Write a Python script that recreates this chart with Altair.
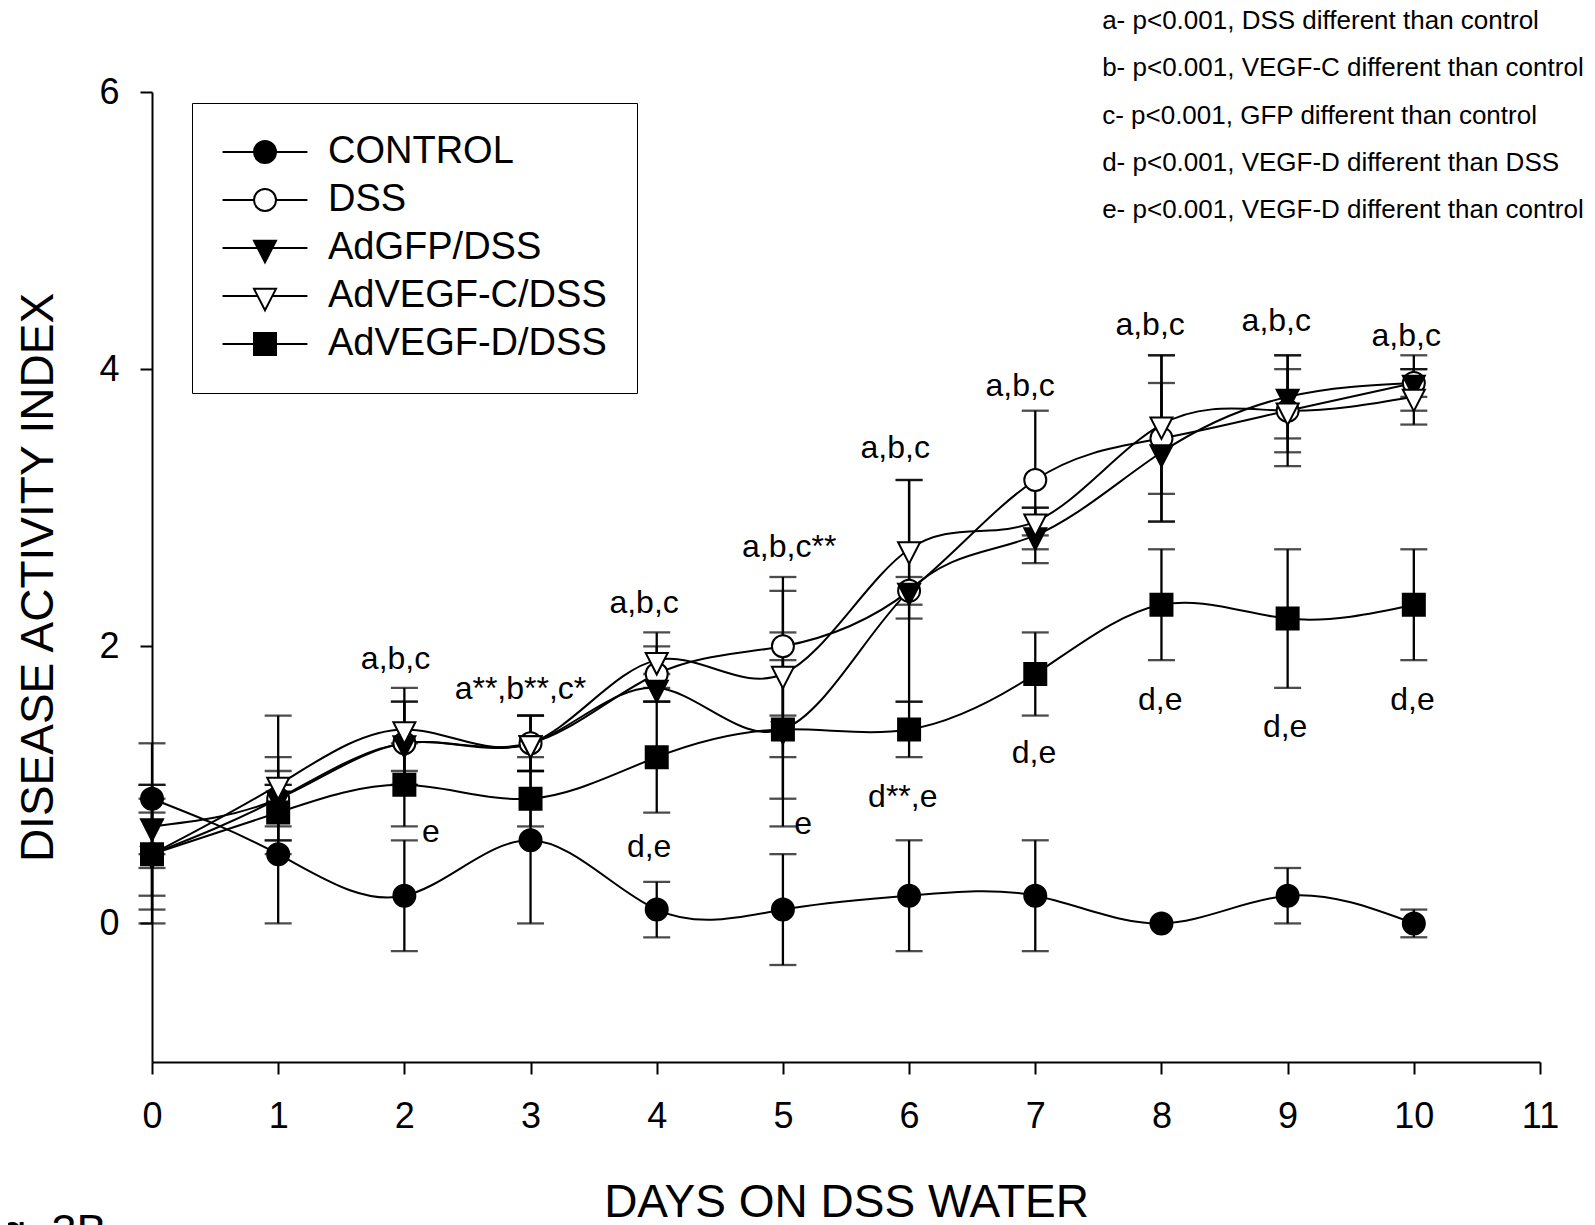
import altair as alt
import pandas as pd

# ---------------- data ----------------
days = [0, 1, 2, 3, 4, 5, 6, 7, 8, 9, 10]
series = ["CONTROL", "DSS", "AdGFP/DSS", "AdVEGF-C/DSS", "AdVEGF-D/DSS"]

control_mean = [0.9, 0.5, 0.2, 0.6, 0.1, 0.1, 0.2, 0.2, 0.0, 0.2, 0.0]
control_err = [0.4, 0.5, 0.4, 0.6, 0.2, 0.4, 0.4, 0.4, 0.0, 0.2, 0.1]
dss_mean = [0.5, 0.9, 1.3, 1.3, 1.8, 2.0, 2.4, 3.2, 3.5, 3.7, 3.9]
dss_err = [0.5, 0.2, 0.3, 0.2, 0.2, 0.5, 0.8, 0.5, 0.6, 0.4, 0.2]
gfp_mean = [0.7, 0.9, 1.3, 1.3, 1.7, 1.4, 2.4, 2.8, 3.4, 3.8, 3.9]
gfp_err = [0.3, 0.3, 0.3, 0.2, 0.1, 0.5, 0.1, 0.2, 0.5, 0.3, 0.1]
vegfc_mean = [0.5, 1.0, 1.4, 1.3, 1.9, 1.8, 2.7, 2.9, 3.6, 3.7, 3.8]
vegfc_err = [0.3, 0.5, 0.3, 0.2, 0.2, 0.6, 0.5, 0.1, 0.5, 0.3, 0.2]
vegfd_mean = [0.5, 0.8, 1.0, 0.9, 1.2, 1.4, 1.4, 1.8, 2.3, 2.2, 2.3]
vegfd_err = [0.4, 0.2, 0.3, 0.2, 0.4, 0.7, 0.2, 0.3, 0.4, 0.5, 0.4]

means = [control_mean, dss_mean, gfp_mean, vegfc_mean, vegfd_mean]
errs = [control_err, dss_err, gfp_err, vegfc_err, vegfd_err]

# significance annotations (day position, index position, text)
ann_x = [1.93, 2.92, 3.90, 5.05, 5.89, 6.88, 7.91, 8.91, 9.94,
         2.21, 3.94, 5.16, 5.95, 6.99, 7.99, 8.98, 9.99]
ann_y = [1.91, 1.69, 2.31, 2.72, 3.43, 3.88, 4.32, 4.35, 4.24,
         0.66, 0.55, 0.72, 0.91, 1.23, 1.61, 1.42, 1.61]
ann_text = ["a,b,c", "a**,b**,c*", "a,b,c", "a,b,c**", "a,b,c", "a,b,c", "a,b,c", "a,b,c", "a,b,c",
            "e", "d,e", "e", "d**,e", "d,e", "d,e", "d,e", "d,e"]

key_text = ["a- p<0.001, DSS different than control",
            "b- p<0.001, VEGF-C different than control",
            "c- p<0.001, GFP different than control",
            "d- p<0.001, VEGF-D different than DSS",
            "e- p<0.001, VEGF-D different than control"]
key_x = [7.53] * 5
key_y = [6.51, 6.17, 5.83, 5.49, 5.15]

fig_label = ["Fig. 3B"]
fig_x = [-1.49]
fig_y = [-2.33]

# ---------------- tables ----------------
rows = []
for si, (s, m, e) in enumerate(zip(series, means, errs)):
    for d, mv, ev in zip(days, m, e):
        rows.append({"series": s, "order": si, "day": d, "mean": mv,
                     "lo": round(mv - ev, 3), "hi": round(mv + ev, 3)})
df = pd.DataFrame(rows)
ann_df = pd.DataFrame({"x": ann_x, "y": ann_y, "t": ann_text})
key_df = pd.DataFrame({"x": key_x, "y": key_y, "t": key_text})
fig_df = pd.DataFrame({"x": fig_x, "y": fig_y, "t": fig_label})

FONT = "Liberation Sans"

xscale = alt.Scale(domain=[0, 11], nice=False, zero=False)
yscale = alt.Scale(domain=[-1, 6], nice=False, zero=False)
xaxis = alt.Axis(values=list(range(12)), title="DAYS ON DSS WATER", labelPadding=25,
                 labelFlush=False, titleY=140, titleBaseline="middle", format="d")
yaxis = alt.Axis(values=[0, 2, 4, 6], title="DISEASE ACTIVITY INDEX", labelPadding=21,
                 labelFlush=False, titleX=-114, titleY=485, titleBaseline="middle",
                 titleAngle=270, format="d")

X = alt.X("day:Q", scale=xscale, axis=xaxis)

tri = "M-1,-0.65 L1,-0.65 L0,1.3 Z"
plot_shapes = ["circle", "circle", tri, tri, "square"]
fills = ["black", "white", "black", "white", "black"]
strokes = ["black"] * 5
L = "3.86"
leg_shapes = [
    f"M-{L},0 H-1 M1,0 H{L} M-1,0 A1,1 0 1,0 1,0 A1,1 0 1,0 -1,0 Z",
    f"M-{L},0 H-1 M1,0 H{L} M-1,0 A1,1 0 1,0 1,0 A1,1 0 1,0 -1,0 Z",
    f"M-{L},0 H-0.67 M0.67,0 H{L} M-1,-0.65 L1,-0.65 L0,1.3 Z",
    f"M-{L},0 H-0.67 M0.67,0 H{L} M-1,-0.65 L1,-0.65 L0,1.3 Z",
    f"M-{L},0 H-1 M1,0 H{L} M-1,-1 H1 V1 H-1 Z",
]

base = alt.Chart(df)
bars = df[df.hi > df.lo]

stems = alt.Chart(bars).mark_rule(color="black", strokeWidth=2.3).encode(
    x=X, y=alt.Y("lo:Q", scale=yscale, axis=yaxis), y2="hi:Q")
cap_lo = alt.Chart(bars).mark_tick(orient="horizontal", size=27, thickness=2.3, color="black").encode(
    x=X, y=alt.Y("lo:Q", scale=yscale, axis=yaxis))
cap_hi = alt.Chart(bars).mark_tick(orient="horizontal", size=27, thickness=2.3, color="black").encode(
    x=X, y=alt.Y("hi:Q", scale=yscale, axis=yaxis))

lines = base.mark_line(interpolate="natural", color="black", strokeWidth=2).encode(
    x=X, y=alt.Y("mean:Q", scale=yscale, axis=yaxis), detail="series:N", order="day:Q")

point_layers = []
for s, shp, f in zip(series, plot_shapes, fills):
    point_layers.append(
        base.transform_filter(alt.datum.series == s).mark_point(
            shape=shp, filled=True, fill=f, stroke="black", strokeWidth=2, size=484, opacity=1
        ).encode(x=X, y=alt.Y("mean:Q", scale=yscale, axis=yaxis))
    )

legend = alt.Legend(
    title=None, orient="none", legendX=40, legendY=11, strokeColor="black",
    padding=30, labelFontSize=38, labelFont=FONT, labelLimit=600, labelColor="black",
    symbolSize=484, symbolStrokeWidth=2, symbolStrokeColor="black", symbolOpacity=1,
    symbolOffset=24, labelOffset=44, rowPadding=10,
)
legend_layer = base.transform_filter("datum.day < 0").mark_point(
    filled=True, stroke="black", strokeWidth=2, size=484, opacity=1).encode(
    x=X, y=alt.Y("mean:Q", scale=yscale, axis=yaxis),
    shape=alt.Shape("series:N", scale=alt.Scale(domain=series, range=leg_shapes), legend=legend),
    fill=alt.Fill("series:N", scale=alt.Scale(domain=series, range=fills), legend=legend),
    stroke=alt.Stroke("series:N", scale=alt.Scale(domain=series, range=strokes), legend=legend))

ann = alt.Chart(ann_df).mark_text(font=FONT, fontSize=32, color="black", baseline="middle").encode(
    x=alt.X("x:Q", scale=xscale, axis=xaxis), y=alt.Y("y:Q", scale=yscale, axis=yaxis), text="t:N")
keys = alt.Chart(key_df).mark_text(font=FONT, fontSize=26, color="black", baseline="middle",
                                   align="left").encode(
    x=alt.X("x:Q", scale=xscale, axis=xaxis), y=alt.Y("y:Q", scale=yscale, axis=yaxis), text="t:N")
fig = alt.Chart(fig_df).mark_text(font=FONT, fontSize=45, color="black", baseline="alphabetic",
                                  align="left").encode(
    x=alt.X("x:Q", scale=xscale, axis=xaxis), y=alt.Y("y:Q", scale=yscale, axis=yaxis), text="t:N")

chart = alt.layer(stems, cap_lo, cap_hi, lines, *point_layers, legend_layer, ann, keys, fig).properties(
    width=1388, height=970,
    autosize=alt.AutoSizeParams(type="none"),
    padding={"left": 144, "top": 84, "right": 47, "bottom": 163},
    background="white",
).configure_view(stroke=None).configure_axis(
    grid=False, domainColor="black", domainWidth=2, tickColor="black", tickWidth=2, tickSize=12,
    labelFont=FONT, labelFontSize=36, labelColor="black",
    titleFont=FONT, titleFontSize=46, titleFontWeight="normal", titleColor="black",
)

chart.save("out.html", embed_options={"renderer": "svg", "actions": False})
